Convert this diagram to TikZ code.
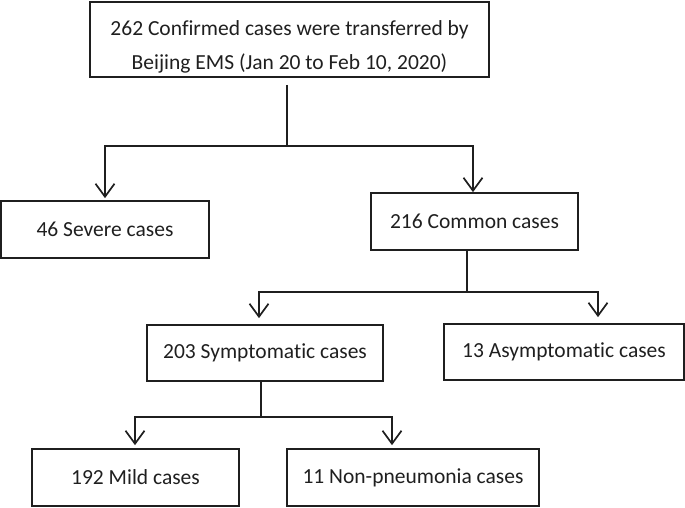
\documentclass[tikz,border=0pt]{standalone}
\usepackage{fontspec}
\setmainfont{Carlito}[Ligatures={NoCommon}]
\usetikzlibrary{arrows.meta,positioning}
\definecolor{pLine}{gray}{0.12}
\tikzset{
    box/.style={draw=pLine, line width=1.7pt, inner sep=0pt, align=center, text=pLine, font=\fontsize{21.5}{34}\selectfont},
    link/.style={draw=pLine, line width=1.7pt},
    arr/.style={link, -{Straight Barb[length=13pt,width=19pt,line width=1.7pt]}}
}
\begin{document}
\begin{tikzpicture}[x=1pt,y=-1pt]
\useasboundingbox (0,0) rectangle (685,507);
% boxes
\node[box, minimum width=399pt, minimum height=75pt] (total)  at (289.5,39.5) {\rule{0pt}{29pt}262 Confirmed cases were transferred by\\Beijing EMS (Jan 20 to Feb 10, 2020)};
\node[box, minimum width=208pt, minimum height=57pt] (severe) at (105,229.5)  {46 Severe cases};
\node[box, minimum width=207pt, minimum height=57pt] (common) at (474.5,221.5) {216 Common cases};
\node[box, minimum width=236pt, minimum height=56pt] (symp)   at (265,353)    {203 Symptomatic cases};
\node[box, minimum width=240pt, minimum height=56pt] (asymp)  at (564,352)    {13 Asymptomatic cases};
\node[box, minimum width=207pt, minimum height=57pt] (mild)   at (135.5,477.5) {192 Mild cases};
\node[box, minimum width=252pt, minimum height=57pt] (nonp)   at (413,477.5)  {11 Non-pneumonia cases};
% branch points
\coordinate (j1) at (287,146);
\coordinate (j2) at (467,292);
\coordinate (j3) at (261,417);
% connectors
\draw[link] ([yshift=-7pt]total.south -| j1) -- (j1);
\draw[arr, shorten >=2pt] (j1) -| (severe.north);
\draw[arr] (j1) -| ([xshift=-1.5pt]common.north);
\draw[link] (common.south -| j2) -- (j2);
\draw[arr, shorten >=6pt] (j2) -| ([xshift=-6pt]symp.north);
\draw[arr, shorten >=6pt] (j2) -| ([xshift=34pt]asymp.north);
\draw[link] (symp.south -| j3) -- (j3);
\draw[arr, shorten >=3pt] (j3) -| ([xshift=-0.5pt]mild.north);
\draw[arr, shorten >=3pt] (j3) -| ([xshift=-21pt]nonp.north);
\end{tikzpicture}
\end{document}
